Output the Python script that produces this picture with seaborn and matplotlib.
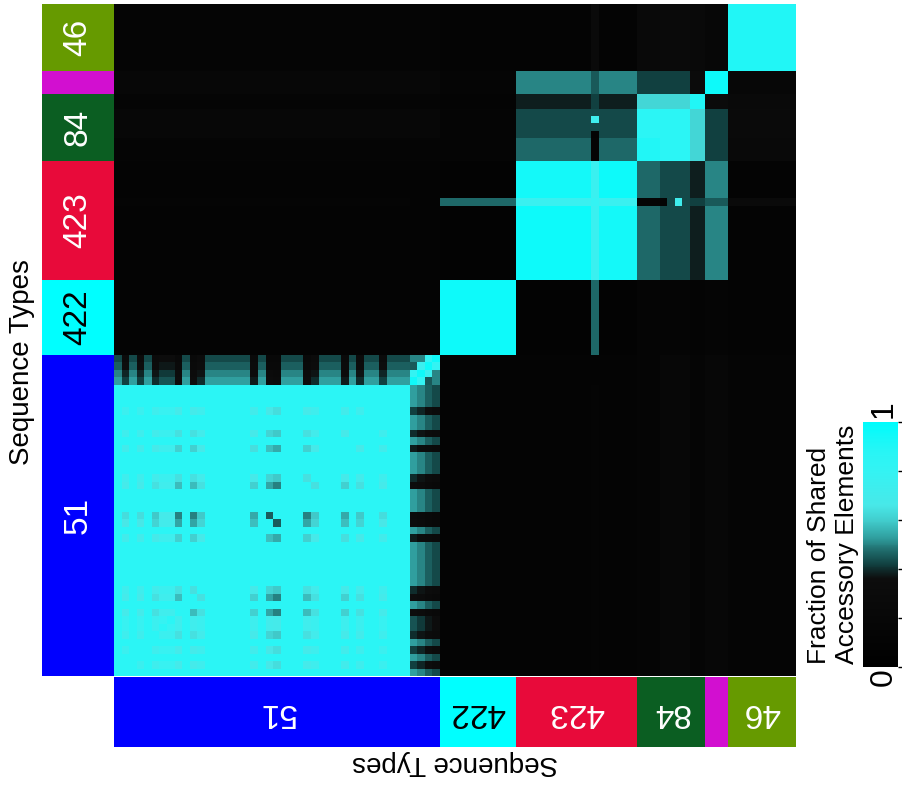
"""
Heatmap of shared accessory elements between isolates, grouped by sequence type
"""
import matplotlib
matplotlib.use('Agg')
import matplotlib.pyplot as plt
import seaborn as sns
import numpy as np
import pandas as pd
from matplotlib.colors import LinearSegmentedColormap, ListedColormap

# sequence types in column order (left to right)
st_labels = ['51', '422', '423', '84', '', '46']
st_sizes = [43, 10, 16, 9, 3, 9]
st_colors = ['#0000ff', '#00ffff', '#e80a3a', '#0b5e22', '#d20fd0', '#669a00']
st_text_colors = ['white', 'black', 'white', 'white', 'white', 'white']

# sub-clusters inside the sequence types (same order)
sub_names = ['51a', '51b', '422', '423a', '423x', '423b', '84a', '84b', '84c', 'mag', '46']
sub_sizes = [39, 4, 10, 10, 1, 5, 3, 4, 2, 3, 9]

# mean fraction of shared accessory elements between sub-clusters
sub_sim = [
    # 51a   51b   422   423a  423x  423b  84a   84b   84c   mag   46
    [0.86, 0.45, 0.12, 0.10, 0.15, 0.10, 0.15, 0.18, 0.15, 0.20, 0.15],  # 51a
    [0.45, 0.50, 0.12, 0.10, 0.12, 0.10, 0.15, 0.18, 0.15, 0.20, 0.15],  # 51b
    [0.12, 0.12, 0.96, 0.08, 0.47, 0.08, 0.15, 0.15, 0.12, 0.15, 0.12],  # 422
    [0.10, 0.10, 0.08, 0.96, 0.76, 0.94, 0.47, 0.43, 0.38, 0.50, 0.12],  # 423a
    [0.15, 0.12, 0.47, 0.76, 1.00, 0.76, 0.15, 0.43, 0.42, 0.45, 0.28],  # 423x
    [0.10, 0.10, 0.08, 0.94, 0.76, 0.96, 0.47, 0.43, 0.38, 0.50, 0.12],  # 423b
    [0.15, 0.15, 0.15, 0.47, 0.15, 0.47, 0.90, 0.86, 0.62, 0.42, 0.26],  # 84a
    [0.18, 0.18, 0.15, 0.43, 0.43, 0.43, 0.86, 0.86, 0.62, 0.42, 0.28],  # 84b
    [0.15, 0.15, 0.12, 0.38, 0.42, 0.38, 0.62, 0.62, 0.90, 0.32, 0.26],  # 84c
    [0.20, 0.20, 0.15, 0.50, 0.45, 0.50, 0.42, 0.42, 0.32, 0.96, 0.20],  # mag
    [0.15, 0.15, 0.12, 0.12, 0.28, 0.12, 0.26, 0.28, 0.26, 0.20, 0.90],  # 46
]
# value on the diagonal of each sub-cluster
sub_diag = [0.86, 0.95, 0.96, 0.96, 0.80, 0.96, 0.90, 0.86, 0.90, 0.96, 0.90]
# neighbours inside the divergent ST51 group
st51b_pairs = [(39, 40, 0.80), (40, 41, 0.75), (41, 42, 0.80), (39, 41, 0.45)]

# how strongly each ST51 core isolate deviates from the rest (0 = typical)
st51_dip = [0.0, 0.5, 0.0, 0.5, 0.0, 0.6, 0.4, 0.4, 0.8, 0.0,
            0.8, 0.6, 0.0, 0.0, 0.0, 0.0, 0.0, 0.0, 0.7, 0.0,
            0.9, 1.0, 0.0, 0.0, 0.0, 0.8, 0.6, 0.0, 0.0, 0.0,
            0.7, 0.0, 0.6, 0.0, 0.0, 0.5, 0.0, 0.0, 0.0]
# overlap of the four divergent ST51 isolates with the ST51 core
st51b_level = [0.53, 0.50, 0.46, 0.43]
# single isolate pairs that stand out
special_pairs = [(63, 74, 0.72), (63, 72, 0.10)]

# build the isolate x isolate matrix
bounds = np.cumsum([0] + sub_sizes)
n = bounds[-1]
sim = np.zeros((n, n))
for a in range(len(sub_sizes)):
    for b in range(len(sub_sizes)):
        sim[bounds[a]:bounds[a + 1], bounds[b]:bounds[b + 1]] = sub_sim[a][b]
d = np.array(st51_dip)
sim[:39, :39] -= 0.45 * np.outer(d, d)
lvl = np.array(st51b_level)
sim[:39, 39:43] = lvl[None, :] - 0.22 * d[:, None]
sim[39:43, :39] = sim[:39, 39:43].T
for i, j, v in special_pairs + st51b_pairs:
    sim[i, j] = sim[j, i] = v
np.fill_diagonal(sim, np.repeat(sub_diag, sub_sizes))

codes = np.repeat(np.arange(len(st_sizes)), st_sizes)

cmap = LinearSegmentedColormap.from_list('shared', [
    (0.00, '#000000'), (0.36, '#0d0d0d'), (0.42, '#114040'), (0.48, '#217070'),
    (0.53, '#30a0a0'), (0.59, '#40c8c8'), (0.66, '#48e8e8'), (0.80, '#34f3f3'),
    (0.88, '#28f5f5'), (1.00, '#00fcfc')])
st_cmap = ListedColormap(st_colors)

plt.rcParams['font.family'] = ['Liberation Sans', 'DejaVu Sans']

fig = plt.figure(figsize=(9.02, 7.85), dpi=100)
ax = fig.add_axes([114 / 902, 1 - 676 / 785, 682 / 902, 672 / 785])
ax_left = fig.add_axes([42 / 902, 1 - 676 / 785, 72 / 902, 672 / 785])
ax_bot = fig.add_axes([114 / 902, 1 - 747 / 785, 682 / 902, 70 / 785])
cax = fig.add_axes([863 / 902, 1 - 667 / 785, 35 / 902, 245 / 785])

# main heatmap, first isolate at the bottom-left
df = pd.DataFrame(sim[::-1])
sns.heatmap(df, ax=ax, cmap=cmap, vmin=0, vmax=1, cbar_ax=cax,
            cbar_kws={'ticks': [0, 0.2, 0.4, 0.6, 0.8, 1]},
            xticklabels=False, yticklabels=False)

# sequence type bars
sns.heatmap(codes[::-1].reshape(-1, 1), ax=ax_left, cmap=st_cmap, vmin=-0.5,
            vmax=len(st_sizes) - 0.5, cbar=False, xticklabels=False, yticklabels=False)
sns.heatmap(codes.reshape(1, -1), ax=ax_bot, cmap=st_cmap, vmin=-0.5,
            vmax=len(st_sizes) - 0.5, cbar=False, xticklabels=False, yticklabels=False)

starts = np.cumsum([0] + st_sizes[:-1])
for lab, s, size, tc in zip(st_labels, starts, st_sizes, st_text_colors):
    c = s + size / 2
    ax_left.text(0.5, n - c, lab, rotation=90, ha='center', va='center',
                 color=tc, fontsize=24)
    ax_bot.text(c, 0.5, lab, rotation=180, ha='center', va='center',
                color=tc, fontsize=24)

fig.text(22 / 902, 1 - 362 / 785, 'Sequence Types', rotation=90,
         ha='center', va='center', fontsize=20)
fig.text(455 / 902, 1 - 763 / 785, 'Sequence Types', rotation=180,
         ha='center', va='center', fontsize=20)

# colorbar
cbar = ax.collections[0].colorbar
cbar.outline.set_visible(False)
cax.set_yticklabels([])
cax.tick_params(length=4, width=1, direction='out', right=True)
cax.set_ylabel('Fraction of Shared\nAccessory Elements', fontsize=19,
               multialignment='left', labelpad=3)
cax.yaxis.set_label_position('left')
cax.text(0.6, -0.04, '0', rotation=90, ha='center', va='center',
         fontsize=23, transform=cax.transAxes)
cax.text(0.6, 1.053, '1', rotation=90, ha='center', va='center',
         fontsize=23, transform=cax.transAxes)

plt.savefig('out.png', dpi=100)
plt.close()
